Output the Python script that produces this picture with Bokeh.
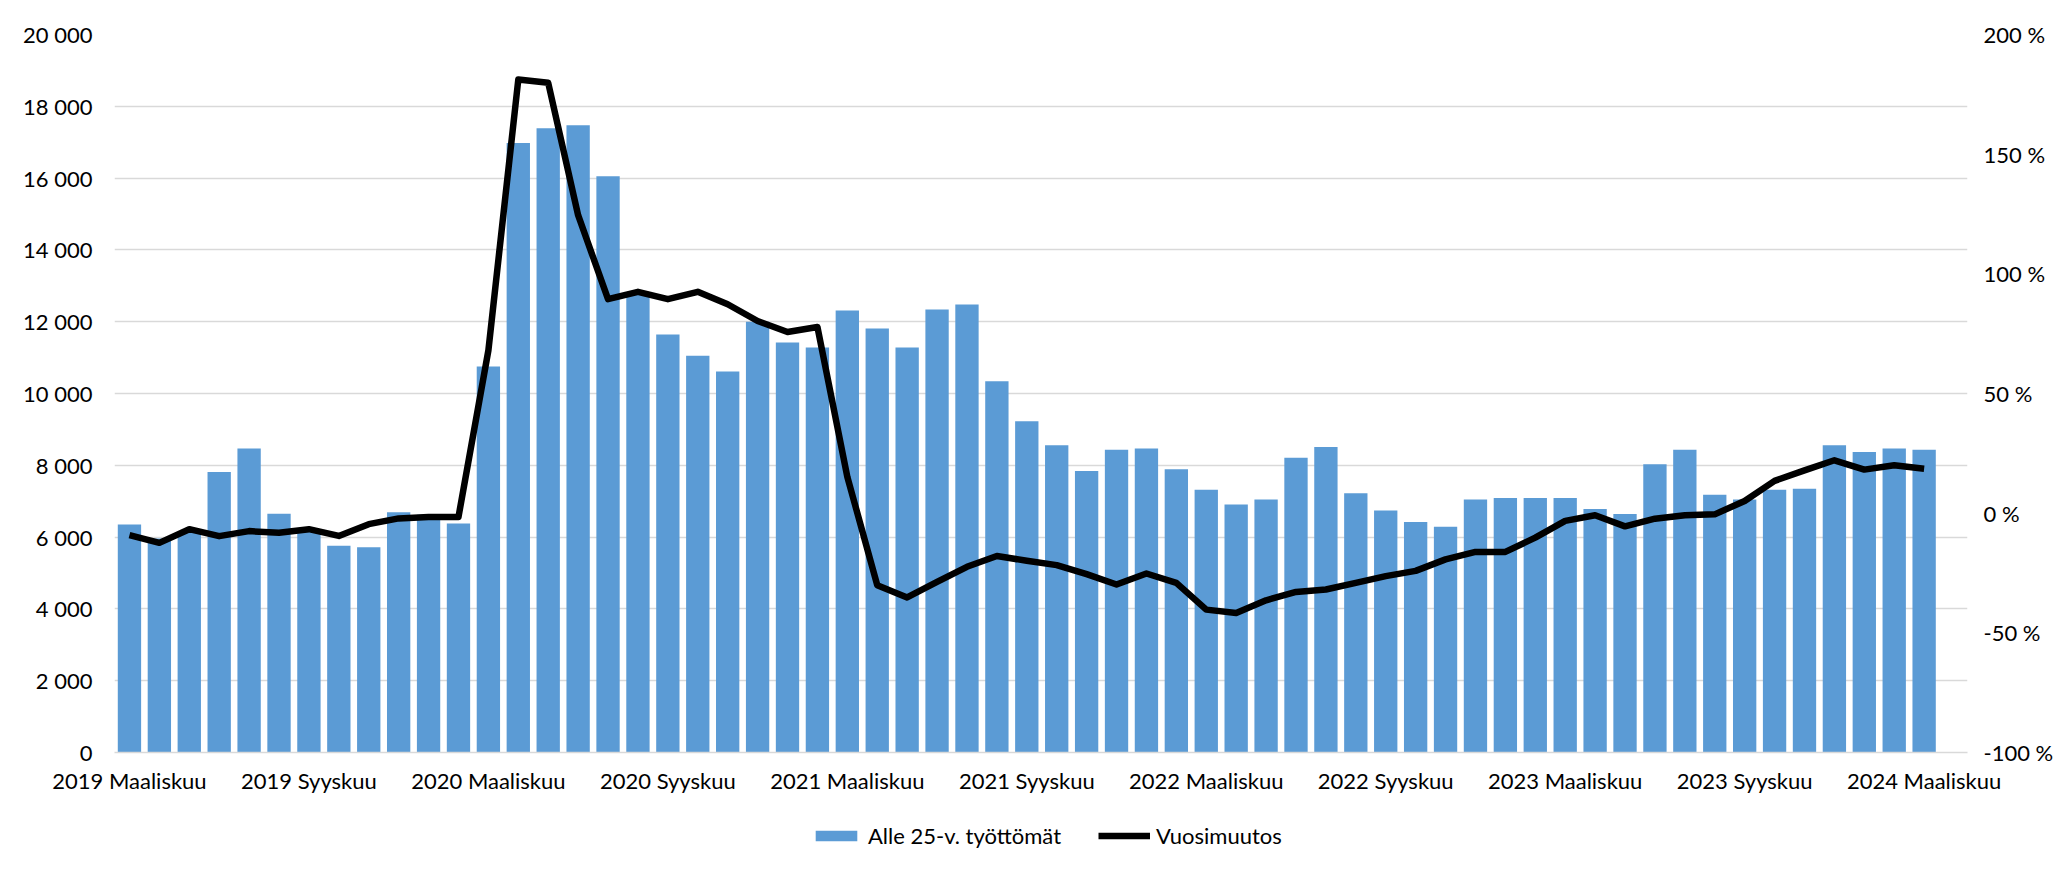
from bokeh.plotting import figure
from bokeh.layouts import column
from bokeh.models import (Range1d, LinearAxis, FixedTicker, ColumnDataSource,
                          Legend, LegendItem)
from bokeh.embed import file_html
from bokeh.resources import INLINE

# ---------------- data ----------------
month_names = ["Tammikuu", "Helmikuu", "Maaliskuu", "Huhtikuu", "Toukokuu", "Kesäkuu",
               "Heinäkuu", "Elokuu", "Syyskuu", "Lokakuu", "Marraskuu", "Joulukuu"]
start_year, start_month, n_months = 2019, 3, 61

categories = []
for k in range(n_months):
    m = start_month - 1 + k
    categories.append(f"{start_year + m // 12} {month_names[m % 12]}")

unemployed_under25 = [
    6350, 5960, 6150, 7810, 8470, 6650, 6200, 5760, 5720, 6690, 6620, 6380,
    10750, 16980, 17390, 17470, 16050, 12800, 11640, 11050, 10610, 12000, 11420, 11280,
    12310, 11810, 11280, 12340, 12480, 10340, 9230, 8560, 7840, 8430, 8470, 7890,
    7320, 6910, 7050, 8210, 8510, 7220, 6740, 6420, 6290, 7050, 7090, 7090,
    7090, 6780, 6640, 8030, 8430, 7180, 7050, 7320, 7350, 8560, 8370, 8470, 8430,
]

yearly_change_pct = [
    -9.2, -12.4, -6.7, -9.6, -7.5, -8.2, -6.7, -9.5, -4.6, -2.2, -1.6, -1.6,
    68.0, 181.2, 179.8, 124.5, 89.4, 92.5, 89.4, 92.5, 87.3, 80.3, 75.7, 77.8,
    15.2, -30.1, -35.2, -28.7, -22.4, -17.9, -19.9, -21.7, -25.5, -29.8, -25.2, -29.1,
    -40.3, -41.7, -36.4, -32.9, -31.9, -29.1, -26.3, -24.1, -19.3, -16.2, -16.2, -10.2,
    -3.2, -0.9, -5.5, -2.3, -0.9, -0.5, 5.1, 13.5, 17.9, 22.1, 18.2, 20.0, 18.6,
]

tick_labels = ["2019 Maaliskuu", "2019 Syyskuu", "2020 Maaliskuu", "2020 Syyskuu",
               "2021 Maaliskuu", "2021 Syyskuu", "2022 Maaliskuu", "2022 Syyskuu",
               "2023 Maaliskuu", "2023 Syyskuu", "2024 Maaliskuu"]

left_ticks = [0, 2000, 4000, 6000, 8000, 10000, 12000, 14000, 16000, 18000, 20000]
right_ticks = [-100, -50, 0, 50, 100, 150, 200]

series_names = ["Alle 25-v. työttömät", "Vuosimuutos"]

# ---------------- styling ----------------
FONT = "Lato"
FS = "22px"
GRID = "#d9d9d9"
BLUE = "#5b9bd5"
W = 2056

x_idx = list(range(len(categories)))
src = ColumnDataSource(dict(x=x_idx, cat=categories, v=unemployed_under25,
                            pct=yearly_change_pct))

p = figure(width=W, height=808, output_backend="svg", toolbar_location=None,
           x_range=Range1d(-0.5, len(categories) + 0.45), y_range=Range1d(0, 20000),
           min_border_left=114, min_border_right=84, min_border_top=34,
           min_border_bottom=56)
p.extra_y_ranges = {"pct": Range1d(-100, 200)}
p.outline_line_color = None
p.background_fill_color = "white"
p.border_fill_color = "white"

bar_style = dict(fill_color=BLUE, line_color=None)
line_style = dict(line_color="black", line_width=6.5, line_join="round")

p.vbar(x="x", top="v", width=0.78, source=src, **bar_style)
p.line(x="x", y="pct", source=src, y_range_name="pct", **line_style)

# axes
p.xaxis.ticker = FixedTicker(ticks=[categories.index(t) for t in tick_labels])
p.xaxis.major_label_overrides = {categories.index(t): t for t in tick_labels}
p.yaxis.ticker = FixedTicker(ticks=left_ticks)
p.yaxis.major_label_overrides = {t: f"{t:,}".replace(",", " ") for t in left_ticks}

right = LinearAxis(y_range_name="pct", ticker=FixedTicker(ticks=right_ticks))
right.major_label_overrides = {t: f"{t} %" for t in right_ticks}
p.add_layout(right, "right")

for ax in [p.xaxis[0], p.yaxis[0], right]:
    ax.major_tick_line_color = None
    ax.minor_tick_line_color = None
    ax.major_tick_out = 0
    ax.major_tick_in = 0
    ax.major_label_text_font = FONT
    ax.major_label_text_font_size = FS
    ax.major_label_text_color = "black"

p.yaxis[0].axis_line_color = None
right.axis_line_color = None
p.yaxis[0].major_label_standoff = 22
right.major_label_standoff = 16
p.xaxis[0].axis_line_color = GRID
p.xaxis[0].axis_line_width = 1.5
p.xaxis[0].major_label_standoff = 14

p.xgrid.visible = False
p.ygrid.ticker = FixedTicker(ticks=left_ticks)
p.ygrid.grid_line_color = GRID
p.ygrid.grid_line_width = 1.5

# ---------------- legend strip (its frame is aligned with the chart frame) ----------------
lg = figure(width=W, height=56, output_backend="svg", toolbar_location=None,
            x_range=Range1d(-0.5, len(categories) + 0.45), y_range=Range1d(1e6, 2e6),
            x_axis_location=None, y_axis_location=None, min_border=0)
lg.outline_line_color = None
lg.grid.visible = False
# same series, outside this strip's visible range: only their legend glyphs show
lb = lg.vbar(x="x", top="v", width=0.78, source=src, **bar_style)
ll = lg.line(x="x", y="pct", source=src, **line_style)

legend = Legend(items=[LegendItem(label=series_names[0], renderers=[lb]),
                       LegendItem(label=series_names[1], renderers=[ll])],
                orientation="horizontal", location=(696, 15),
                border_line_color=None, background_fill_alpha=0,
                glyph_width=52, glyph_height=13, label_standoff=6, spacing=37,
                padding=0, margin=0,
                label_text_font=FONT, label_text_font_size=FS,
                label_text_color="black")
lg.add_layout(legend)

open("out.html", "w").write(file_html(column(p, lg, spacing=0), INLINE))
